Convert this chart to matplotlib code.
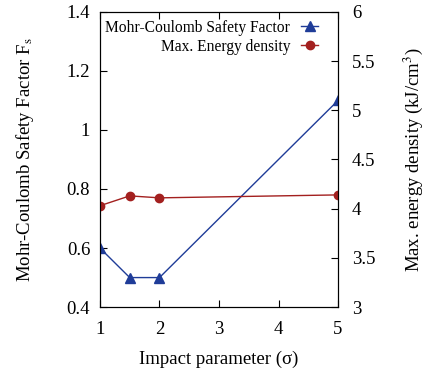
import matplotlib
matplotlib.use("Agg")
import matplotlib.pyplot as plt

# Safety factor and max energy density vs impact parameter

impact = [1, 1.5, 2, 5]
safety_factor = [0.6, 0.5, 0.5, 1.1]
energy_density = [4.03, 4.13, 4.11, 4.14]

plt.rcParams['font.family'] = ['Liberation Serif', 'DejaVu Serif']
plt.rcParams['mathtext.fontset'] = 'stix'

blue = '#1f3c98'
red = '#a3201f'

fig = plt.figure(figsize=(4.29, 3.70), dpi=100)
ax = fig.add_axes([0.233, 0.170, 0.555, 0.798])
ax2 = ax.twinx()

l1, = ax.plot(impact, safety_factor, color=blue, marker='^', markersize=6.5, linewidth=1,
              label='Mohr-Coulomb Safety Factor')
l2, = ax2.plot(impact, energy_density, color=red, marker='o', markersize=6, linewidth=1,
               label='Max. Energy density')

ax.set_xlim(1, 5)
ax.set_ylim(0.4, 1.4)
ax2.set_ylim(3, 6)
ax.set_xticks([1, 2, 3, 4, 5])
ax.set_yticks([0.4, 0.6, 0.8, 1.0, 1.2, 1.4])
ax.set_yticklabels(['0.4', '0.6', '0.8', '1', '1.2', '1.4'])
ax2.set_yticks([3, 3.5, 4, 4.5, 5, 5.5, 6])
ax2.set_yticklabels(['3', '3.5', '4', '4.5', '5', '5.5', '6'])

ax.tick_params(axis='x', direction='in', top=True, labelsize=13.5, length=5, pad=10)
ax.tick_params(axis='y', direction='in', labelsize=13.5, length=5, pad=7)
ax2.tick_params(direction='in', labelsize=13.5, length=5, pad=10)

ax.set_xlabel('Impact parameter (σ)', fontsize=13.5, labelpad=9)
ax.set_ylabel('Mohr-Coulomb Safety Factor F$_\\mathrm{s}$', fontsize=13.5, labelpad=22)
ax2.set_ylabel('Max. energy density (kJ/cm$^3$)', fontsize=13.5, labelpad=19)

ax.legend([l1, l2], [l1.get_label(), l2.get_label()], loc='upper right',
          bbox_to_anchor=(0.95, 1.0), frameon=False,
          markerfirst=False, fontsize=11.2, handlelength=1.1, borderaxespad=0.2,
          labelspacing=0.2, handletextpad=0.7, borderpad=0.3)

fig.savefig('out.png', dpi=100)
